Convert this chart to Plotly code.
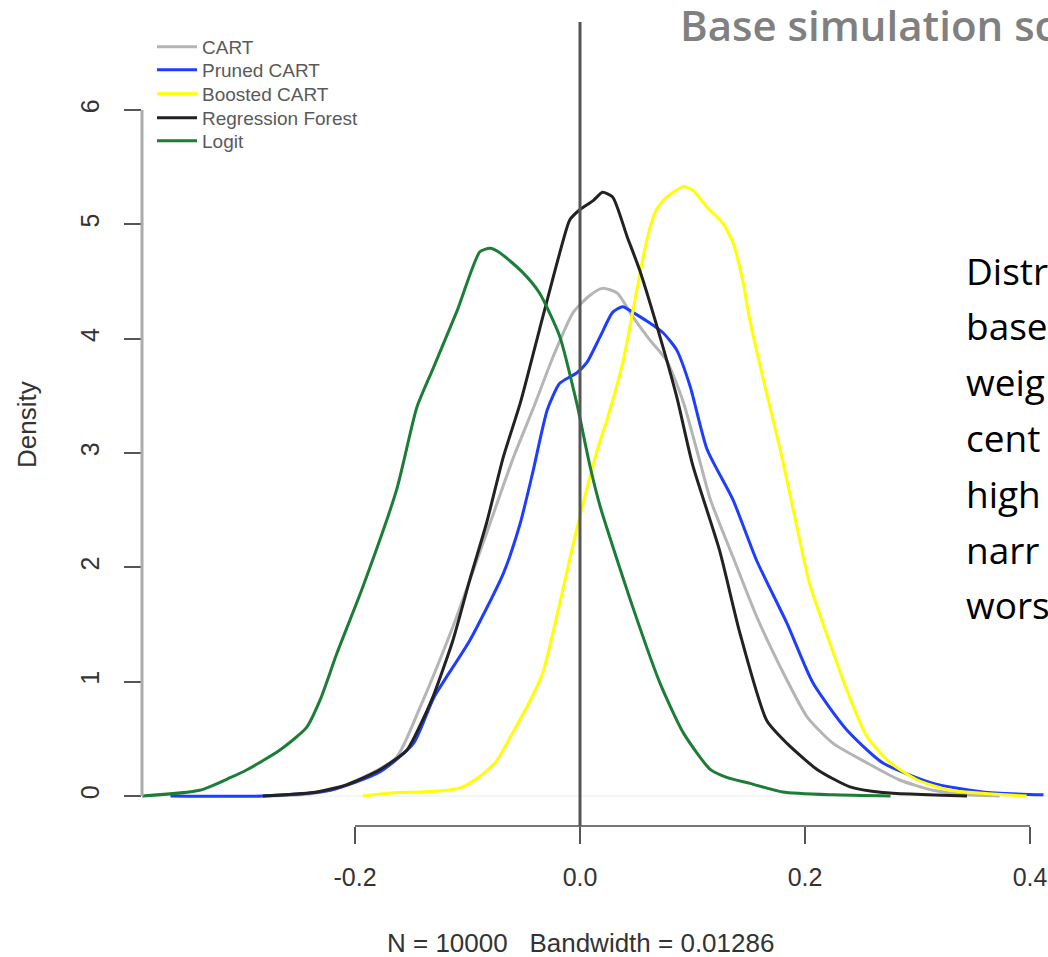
import plotly.graph_objects as go

# ---------------- data ----------------
cart_x = [-0.282, -0.249, -0.222, -0.193, -0.163, -0.142, -0.113, -0.083, -0.060, -0.042, -0.024,
          -0.006, 0.009, 0.020, 0.033, 0.047, 0.062, 0.077, 0.092, 0.107, 0.116, 0.136, 0.157,
          0.178, 0.202, 0.225, 0.255, 0.284, 0.314, 0.344, 0.373]
cart_y = [0.0, 0.01, 0.05, 0.16, 0.34, 0.78, 1.48, 2.30, 2.94, 3.38, 3.84,
          4.23, 4.38, 4.44, 4.40, 4.19, 3.99, 3.81, 3.44, 2.91, 2.59, 2.09, 1.57,
          1.13, 0.69, 0.46, 0.29, 0.14, 0.05, 0.01, 0.0]

pruned_x = [-0.364, -0.282, -0.222, -0.178, -0.148, -0.130, -0.098, -0.068, -0.053, -0.042, -0.029,
            -0.018, -0.003, 0.006, 0.018, 0.029, 0.038, 0.047, 0.060, 0.074, 0.086, 0.098,
            0.113, 0.136, 0.157, 0.184, 0.207, 0.237, 0.269, 0.314, 0.358, 0.412]
pruned_y = [0.0, 0.0, 0.05, 0.21, 0.46, 0.86, 1.36, 1.95, 2.39, 2.83, 3.38,
            3.61, 3.70, 3.79, 4.02, 4.23, 4.28, 4.23, 4.15, 4.05, 3.90, 3.58,
            3.03, 2.59, 2.06, 1.51, 0.99, 0.58, 0.29, 0.11, 0.035, 0.01]

boosted_x = [-0.193, -0.163, -0.142, -0.118, -0.104, -0.089, -0.074, -0.060, -0.044, -0.033, -0.020,
             -0.003, 0.009, 0.018, 0.024, 0.038, 0.051, 0.060, 0.068, 0.077, 0.092, 0.100,
             0.113, 0.127, 0.136, 0.145, 0.151, 0.164, 0.178, 0.189, 0.204, 0.222, 0.237,
             0.255, 0.276, 0.300, 0.329, 0.397]
boosted_y = [0.0, 0.03, 0.035, 0.05, 0.08, 0.17, 0.31, 0.55, 0.84, 1.08, 1.60,
             2.33, 2.80, 3.11, 3.29, 3.79, 4.45, 4.89, 5.13, 5.24, 5.33, 5.30,
             5.15, 5.01, 4.84, 4.49, 4.16, 3.60, 3.03, 2.53, 1.86, 1.34, 0.93,
             0.52, 0.29, 0.14, 0.05, 0.0]

forest_x = [-0.282, -0.237, -0.207, -0.178, -0.154, -0.142, -0.131, -0.113, -0.098, -0.083, -0.068,
            -0.053, -0.036, -0.018, -0.009, 0.000, 0.012, 0.020, 0.029, 0.042, 0.053, 0.071,
            0.086, 0.100, 0.124, 0.142, 0.166, 0.184, 0.211, 0.240, 0.269, 0.344]
forest_y = [0.0, 0.03, 0.10, 0.23, 0.40, 0.62, 0.86, 1.36, 1.89, 2.39, 2.97,
            3.44, 4.08, 4.75, 5.04, 5.13, 5.21, 5.28, 5.24, 4.89, 4.60, 4.02,
            3.49, 2.90, 2.15, 1.43, 0.66, 0.46, 0.23, 0.08, 0.03, 0.0]

logit_x = [-0.389, -0.338, -0.311, -0.296, -0.267, -0.243, -0.231, -0.216, -0.193, -0.163, -0.145,
           -0.131, -0.109, -0.089, -0.080, -0.071, -0.051, -0.036, -0.018, -0.003, 0.009,
           0.018, 0.047, 0.071, 0.092, 0.116, 0.131, 0.151, 0.180, 0.225, 0.276]
logit_y = [0.0, 0.05, 0.16, 0.23, 0.40, 0.60, 0.84, 1.25, 1.83, 2.68, 3.40,
           3.73, 4.25, 4.76, 4.79, 4.75, 4.58, 4.40, 4.02, 3.44, 2.88,
           2.53, 1.65, 0.99, 0.55, 0.23, 0.16, 0.11, 0.035, 0.01, 0.0]

series_names = ["CART", "Pruned CART", "Boosted CART", "Regression Forest", "Logit"]
series_x = [cart_x, pruned_x, boosted_x, forest_x, logit_x]
series_y = [cart_y, pruned_y, boosted_y, forest_y, logit_y]
series_colors = ["#b5b5b5", "#1f3dff", "#ffff00", "#222222", "#1b7d36"]

x_tickvals = [-0.2, 0.0, 0.2, 0.4]
x_ticktext = ["-0.2", "0.0", "0.2", "0.4"]
y_tickvals = [0, 1, 2, 3, 4, 5, 6]
y_ticktext = ["0", "1", "2", "3", "4", "5", "6"]

# slide text as visible in the (cropped) reference
title_text = "Base simulation sc"
side_text = ["Distr", "base", "weig", "cent", "high", "narr", "wors"]

# ---------------- layout geometry ----------------
W, H = 1048, 957
ML, MR, MT, MB = 142, 0, 22, 131
PW, PH = W - ML - MR, H - MT - MB


def px_x(p):
    return (p - ML) / PW


def px_y(p):
    return (H - MB - p) / PH


AXFONT = "Liberation Sans, Arial, sans-serif"

fig = go.Figure()
legend_rows = [47, 70, 94, 118, 141]
for i, (nm, xs, ys, col) in enumerate(zip(series_names, series_x, series_y, series_colors)):
    lg = "legend" if i == 0 else f"legend{i + 1}"
    fig.add_trace(go.Scatter(
        x=xs, y=ys, mode="lines", name=nm,
        line=dict(color=col, width=3, shape="spline", smoothing=0.6),
        legend=lg, hoverinfo="skip",
    ))

layout_legends = {}
for i, row in enumerate(legend_rows):
    key = "legend" if i == 0 else f"legend{i + 1}"
    layout_legends[key] = dict(
        x=px_x(152), xanchor="left", y=px_y(row), yanchor="middle",
        bgcolor="rgba(0,0,0,0)", borderwidth=0,
        font=dict(family=AXFONT, size=19, color="#5a5a5a"),
        itemwidth=40,
    )

fig.update_layout(
    width=W, height=H,
    margin=dict(l=ML, r=MR, t=MT, b=MB, pad=0),
    paper_bgcolor="white", plot_bgcolor="white",
    showlegend=True,
    **layout_legends,
    xaxis=dict(
        range=[(ML - 580) / 1125, (W - MR - 580) / 1125],
        tickvals=x_tickvals, ticktext=x_ticktext,
        ticks="outside", ticklen=17, tickwidth=2, tickcolor="#555555",
        showline=False, showgrid=False, zeroline=False,
        tickfont=dict(family=AXFONT, size=25, color="#333333"),
        ticklabelstandoff=12,
        automargin=False,
    ),
    yaxis=dict(
        range=[-(H - MB - 796) / 114.33, (796 - MT) / 114.33],
        tickvals=y_tickvals, ticktext=y_ticktext, tickangle=-90,
        ticks="outside", ticklen=17, tickwidth=2, tickcolor="#555555",
        showline=False, showgrid=False, zeroline=False,
        tickfont=dict(family=AXFONT, size=25, color="#333333"),
        ticklabelstandoff=15,
        automargin=False,
    ),
    shapes=[
        dict(type="line", xref="paper", x0=0, x1=1, yref="y", y0=0, y1=0,
             line=dict(color="#ececec", width=1), layer="below"),
        dict(type="line", xref="x", x0=x_tickvals[0], x1=x_tickvals[-1], yref="paper", y0=0, y1=0,
             line=dict(color="#777777", width=2), layer="above"),
        dict(type="line", xref="paper", x0=0, x1=0, yref="y", y0=y_tickvals[0], y1=y_tickvals[-1],
             line=dict(color="#ababab", width=3), layer="above"),
        dict(type="line", xref="x", x0=0, x1=0, yref="paper", y0=0, y1=1,
             line=dict(color="#555555", width=3), layer="above"),
    ],
)

annotations = [
    dict(text=title_text, xref="paper", yref="paper",
         x=px_x(678), y=px_y(25), xanchor="left", yanchor="middle", showarrow=False,
         font=dict(family="Open Sans, Lato, sans-serif", size=42, color="#808080", weight=600)),
    dict(text="Density", xref="paper", yref="paper", x=px_x(27), y=0.5,
         xanchor="center", yanchor="middle", textangle=-90, showarrow=False,
         font=dict(family=AXFONT, size=26, color="#333333")),
    dict(text="N = 10000\u00a0\u00a0\u00a0Bandwidth = 0.01286", xref="x", yref="paper",
         x=0, y=px_y(943), xanchor="center", yanchor="middle", showarrow=False,
         font=dict(family=AXFONT, size=26, color="#333333")),
]
for j, line in enumerate(side_text):
    annotations.append(dict(
        text=line, xref="paper", yref="paper", x=px_x(964), y=px_y(270 + 55.8 * j),
        xanchor="left", yanchor="middle", showarrow=False,
        font=dict(family="Open Sans, Lato, sans-serif", size=37, color="#000000")))
fig.update_layout(annotations=annotations)

fig.write_html("out.html")
